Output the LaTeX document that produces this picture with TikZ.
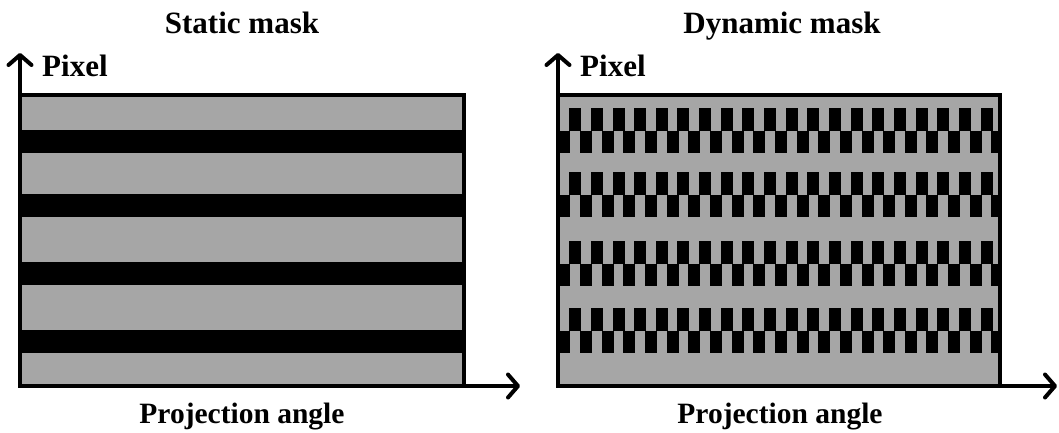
\documentclass[tikz,border=0pt]{standalone}
\usepackage{fontspec}
\setmainfont{Liberation Serif}
\usetikzlibrary{arrows.meta}
\definecolor{maskgray}{RGB}{166,166,166}

\begin{document}
\begin{tikzpicture}[x=1pt, y=-1pt,
    every node/.style={font=\fontsize{31}{34}\selectfont\bfseries, inner sep=0pt, anchor=base},
    anglelabel/.style={font=\fontsize{29.5}{33}\selectfont\bfseries},
    axisline/.style={line width=4pt,
      {Straight Barb[length=10pt, width=23pt, round]}-{Straight Barb[length=10pt, width=23pt, round]}},
    maskborder/.style={draw=black, line width=4.5pt}]
  \useasboundingbox (0,0) rectangle (1059,432);

  % static mask: grey field with full black stripes
  \fill[maskgray] (20,95) rectangle (464,386);
  \foreach \y in {130,194,262,330}{
    \fill (20,\y) rectangle (464,\y+23);
  }
  \draw[maskborder] (20,95) -- (464,95) -- (464,386);

  % dynamic mask: stripes broken into a checker pattern
  \fill[maskgray] (558,95) rectangle (1000,386);
  \begin{scope}
    \clip (558,95) rectangle (1000,386);
    \foreach \t in {108,172,241,308}{
      \foreach \j in {0,...,19}
        \fill (569.2+\j*21.65,\t) rectangle +(12,22.5);
      \foreach \j in {0,...,20}
        \fill (558.4+\j*21.65,\t+22.5) rectangle +(12,22.5);
    }
  \end{scope}
  \draw[maskborder] (558,95) -- (1000,95) -- (1000,386);

  % axes
  \coordinate (lo) at (20,386);
  \coordinate (ly) at (20,53);
  \coordinate (lx) at (520,386);
  \coordinate (ro) at (558,386);
  \coordinate (ry) at (558,53);
  \coordinate (rx) at (1057,386);
  \draw[axisline] (ly) -- (lo) -- (lx);
  \draw[axisline] (ry) -- (ro) -- (rx);

  % labels
  \node (statictitle) at (242,33) {Static mask};
  \node (dynamictitle) at (782,33) {Dynamic mask};
  \node[anchor=base west] (staticpixel) at (42,76) {Pixel};
  \node[anchor=base west] (dynamicpixel) at (580,76) {Pixel};
  \node[anglelabel] (staticangle) at (242,423) {Projection angle};
  \node[anglelabel] (dynamicangle) at (780,423) {Projection angle};
\end{tikzpicture}
\end{document}
